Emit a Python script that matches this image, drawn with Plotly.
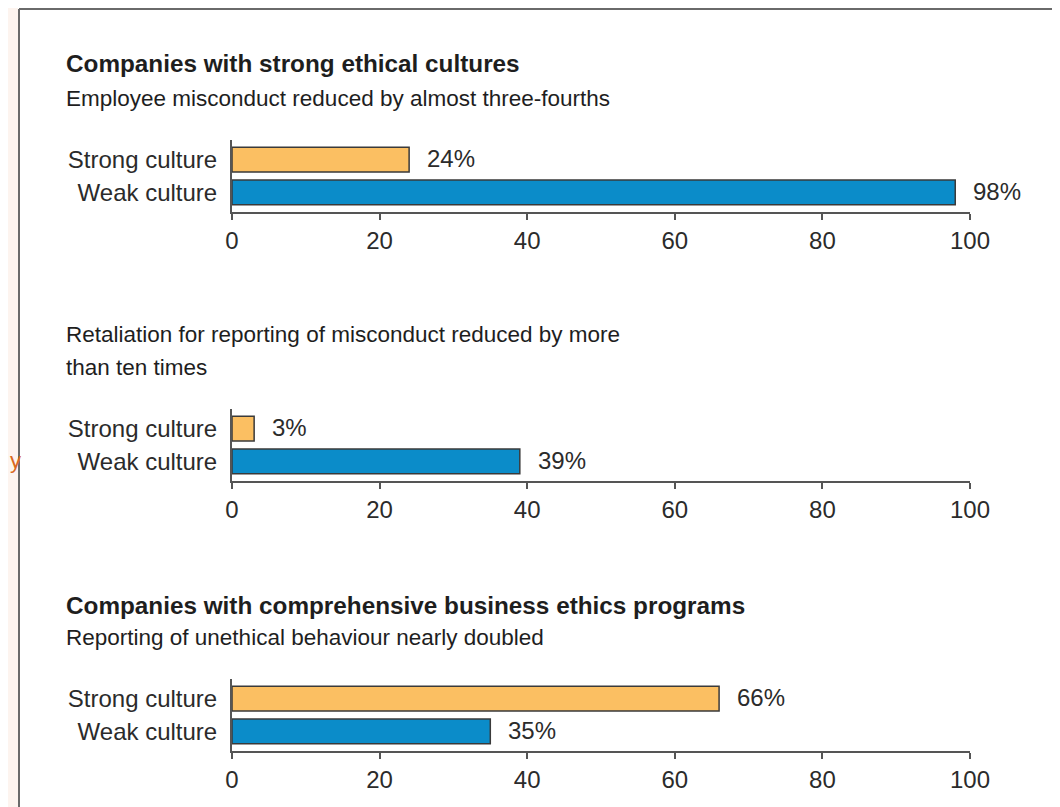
import plotly.graph_objects as go

W, H = 1060, 807
OFF = 8  # page body margin of the browser

categories = ["Weak culture", "Strong culture"]
panel1_values = [98, 24]
panel2_values = [39, 3]
panel3_values = [35, 66]
bar_colors = ["#0B8CC9", "#FBBF62"]
tick_vals = [0, 20, 40, 60, 80, 100]

FONT = "Liberation Sans, Arial, sans-serif"
TXT = "#2b2b2b"

def px_x(p):
    return (p - OFF) / W

def px_y(p):
    return 1 - (p - OFF) / H

fig = go.Figure()

panels = [
    (panel1_values, 140, 212),
    (panel2_values, 409, 481),
    (panel3_values, 679, 751),
]

annotations = []
for i, (vals, top, bottom) in enumerate(panels, start=1):
    xa = "x" if i == 1 else f"x{i}"
    ya = "y" if i == 1 else f"y{i}"
    fig.add_trace(go.Bar(
        x=vals, y=categories, orientation="h",
        marker=dict(color=bar_colors, line=dict(color="#3a3a3a", width=1.5)),
        width=0.75, xaxis=xa, yaxis=ya, showlegend=False, hoverinfo="skip",
    ))
    xkey = "xaxis" if i == 1 else f"xaxis{i}"
    ykey = "yaxis" if i == 1 else f"yaxis{i}"
    fig.update_layout({
        xkey: dict(
            domain=[px_x(232), px_x(970)], range=[0, 100], automargin=False,
            anchor=ya, tickvals=tick_vals, ticks="outside", ticklen=6,
            tickcolor="#555", tickwidth=1.5,
            showline=True, linecolor="#555", linewidth=2,
            showgrid=False, zeroline=False, fixedrange=True,
            tickfont=dict(family=FONT, size=24, color=TXT),
        ),
        ykey: dict(
            domain=[px_y(bottom), px_y(top)], range=[-0.6, 1.6], automargin=False,
            anchor=xa, type="category", categoryorder="array",
            categoryarray=categories,
            showline=True, linecolor="#555", linewidth=2,
            ticks="", showgrid=False, zeroline=False, fixedrange=True,
            ticklabelstandoff=8,
            tickfont=dict(family=FONT, size=24, color=TXT),
        ),
    })
    for cat, v in zip(categories, vals):
        annotations.append(dict(
            x=v, y=cat, xref=xa, yref=ya, text=f"{v}%", showarrow=False,
            xanchor="left", xshift=16, yshift=1,
            font=dict(family=FONT, size=24, color=TXT),
        ))

texts = [
    ("<b>Companies with strong ethical cultures</b>", 63, 24.3),
    ("Employee misconduct reduced by almost three-fourths", 98, 22.5),
    ("Retaliation for reporting of misconduct reduced by more", 334, 22.5),
    ("than ten times", 367, 22.5),
    ("<b>Companies with comprehensive business ethics programs</b>", 605, 24.3),
    ("Reporting of unethical behaviour nearly doubled", 637, 22.5),
]
for t, yy, sz in texts:
    annotations.append(dict(
        x=px_x(64), y=px_y(yy), xref="paper", yref="paper", text=t,
        showarrow=False, xanchor="left", yanchor="middle",
        font=dict(family=FONT, size=sz, color="#1e1e1e"),
    ))

annotations.append(dict(
    x=0, y=px_y(460), xref="paper", yref="paper", text="y",
    showarrow=False, xanchor="left", yanchor="middle",
    font=dict(family="Liberation Sans", size=22, color="#D9681E"),
))

TOP = 9
shapes = [
    dict(type="rect", xref="paper", yref="paper", x0=0, x1=px_x(18),
         y0=0, y1=1, fillcolor="#FDF4EF", line=dict(width=0), layer="below"),
    dict(type="line", xref="paper", yref="paper", x0=px_x(19), x1=px_x(19),
         y0=0, y1=px_y(TOP), line=dict(color="#6a6a6a", width=2)),
    dict(type="line", xref="paper", yref="paper", x0=px_x(19), x1=px_x(1056),
         y0=px_y(TOP), y1=px_y(TOP), line=dict(color="#6a6a6a", width=2)),
    dict(type="line", xref="paper", yref="paper", x0=px_x(1055), x1=px_x(1055),
         y0=0, y1=px_y(TOP), line=dict(color="#c8c8c8", width=1.5)),
]

fig.update_layout(
    width=W, height=H, margin=dict(l=0, r=0, t=0, b=0, autoexpand=False),
    paper_bgcolor="white", plot_bgcolor="rgba(0,0,0,0)",
    annotations=annotations, shapes=shapes, bargap=0.2,
)

fig.write_html("out.html", include_plotlyjs=True, config={"displayModeBar": False})
